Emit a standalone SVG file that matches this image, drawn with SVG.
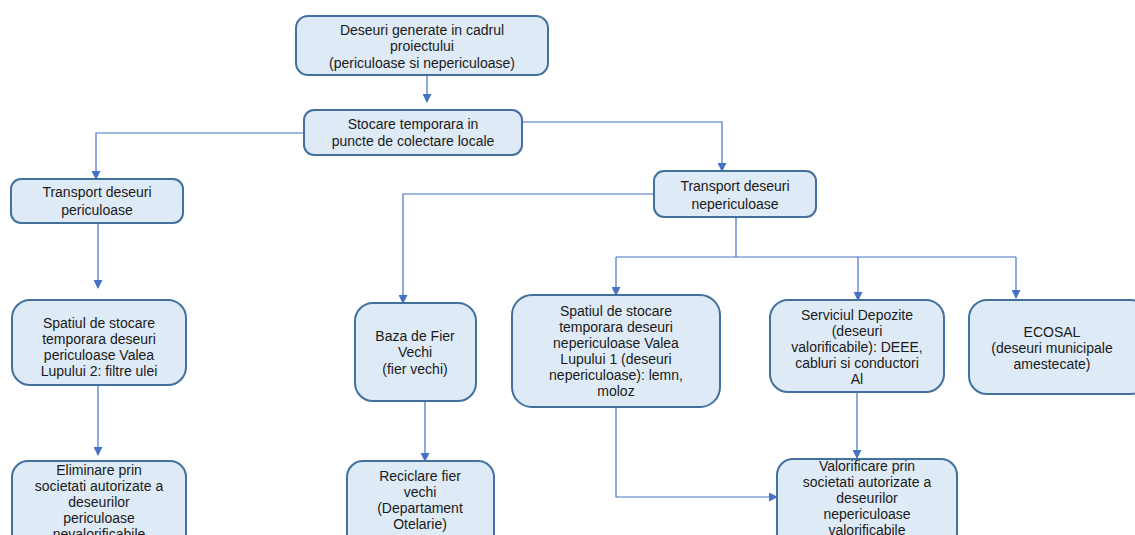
<svg xmlns="http://www.w3.org/2000/svg" width="1135" height="535" viewBox="0 0 1135 535">
<defs>
<marker id="ah" markerWidth="9" markerHeight="9" refX="8" refY="4.5" orient="auto" markerUnits="userSpaceOnUse">
<path d="M0,0 L9,4.5 L0,9 z" fill="#4472C4"/>
</marker>
<style>
.n{fill:#DEEAF6;stroke:#41719C;stroke-width:2}
.t{font-family:"Liberation Sans",Arial,sans-serif;font-size:14px;fill:#1a1a1a;text-anchor:middle}
.c{fill:none;stroke:#4472C4;stroke-width:1.2}
</style>
</defs>
<rect width="1135" height="535" fill="#fff"/>
<g id="connectors">
<path class="c" d="M427,75 V102" marker-end="url(#ah)"/>
<path class="c" d="M304,133 H96 V179" marker-end="url(#ah)"/>
<path class="c" d="M522,122 H722 V171" marker-end="url(#ah)"/>
<path class="c" d="M98,223 V288" marker-end="url(#ah)"/>
<path class="c" d="M98,385 V455" marker-end="url(#ah)"/>
<path class="c" d="M654,194 H403 V303" marker-end="url(#ah)"/>
<path class="c" d="M736,217 V257"/>
<path class="c" d="M616,257 H1016"/>
<path class="c" d="M616,257 V295" marker-end="url(#ah)"/>
<path class="c" d="M858,257 V300" marker-end="url(#ah)"/>
<path class="c" d="M1016,257 V298" marker-end="url(#ah)"/>
<path class="c" d="M425,401 V461" marker-end="url(#ah)"/>
<path class="c" d="M616,407 V497 H777" marker-end="url(#ah)"/>
<path class="c" d="M857,392 V458" marker-end="url(#ah)"/>
</g>
<g id="n1"><rect class="n" x="296" y="16" width="252" height="59" rx="12"/>
<text class="t" x="422" y="35">Deseuri generate in cadrul</text>
<text class="t" x="422" y="51">proiectului</text>
<text class="t" x="422" y="68">(periculoase si nepericuloase)</text></g>
<g id="n2"><rect class="n" x="304" y="110" width="218" height="45" rx="10"/>
<text class="t" x="413" y="129">Stocare temporara in</text>
<text class="t" x="413" y="146">puncte de colectare locale</text></g>
<g id="n3"><rect class="n" x="11" y="179" width="172" height="44" rx="10"/>
<text class="t" x="97" y="197">Transport deseuri</text>
<text class="t" x="97" y="215">periculoase</text></g>
<g id="n4"><rect class="n" x="654" y="171" width="162" height="46" rx="10"/>
<text class="t" x="735" y="191">Transport deseuri</text>
<text class="t" x="735" y="209">nepericuloase</text></g>
<g id="n5"><rect class="n" x="12" y="300" width="174" height="85" rx="18"/>
<text class="t" x="99" y="328">Spatiul de stocare</text>
<text class="t" x="99" y="344">temporara deseuri</text>
<text class="t" x="99" y="360">periculoase Valea</text>
<text class="t" x="99" y="376">Lupului 2: filtre ulei</text></g>
<g id="n6"><rect class="n" x="355" y="303" width="121" height="98" rx="18"/>
<text class="t" x="415" y="341">Baza de Fier</text>
<text class="t" x="415" y="357">Vechi</text>
<text class="t" x="415" y="374">(fier vechi)</text></g>
<g id="n7"><rect class="n" x="512" y="295" width="208" height="112" rx="20"/>
<text class="t" x="616" y="316">Spatiul de stocare</text>
<text class="t" x="616" y="332">temporara deseuri</text>
<text class="t" x="616" y="348">nepericuloase Valea</text>
<text class="t" x="616" y="364">Lupului 1 (deseuri</text>
<text class="t" x="616" y="380">nepericuloase): lemn,</text>
<text class="t" x="616" y="396">moloz</text></g>
<g id="n8"><rect class="n" x="770" y="300" width="174" height="92" rx="18"/>
<text class="t" x="857" y="320">Serviciul Depozite</text>
<text class="t" x="857" y="336">(deseuri</text>
<text class="t" x="857" y="352">valorificabile): DEEE,</text>
<text class="t" x="857" y="368">cabluri si conductori</text>
<text class="t" x="857" y="384">Al</text></g>
<g id="n9"><rect class="n" x="969" y="300" width="180" height="94" rx="18"/>
<text class="t" x="1052" y="337">ECOSAL</text>
<text class="t" x="1052" y="353">(deseuri  municipale</text>
<text class="t" x="1052" y="369">amestecate)</text></g>
<g id="n10"><rect class="n" x="12" y="461" width="174" height="90" rx="16"/>
<text class="t" x="99" y="475">Eliminare prin</text>
<text class="t" x="99" y="491">societati autorizate a</text>
<text class="t" x="99" y="507">deseurilor</text>
<text class="t" x="99" y="523">periculoase</text>
<text class="t" x="99" y="539">nevalorificabile</text></g>
<g id="n11"><rect class="n" x="347" y="461" width="147" height="90" rx="16"/>
<text class="t" x="420" y="481">Reciclare fier</text>
<text class="t" x="420" y="497">vechi</text>
<text class="t" x="420" y="513">(Departament</text>
<text class="t" x="420" y="529">Otelarie)</text></g>
<g id="n12"><rect class="n" x="777" y="459" width="180" height="90" rx="16"/>
<text class="t" x="867" y="471">Valorificare prin</text>
<text class="t" x="867" y="487">societati autorizate a</text>
<text class="t" x="867" y="503">deseurilor</text>
<text class="t" x="867" y="519">nepericuloase</text>
<text class="t" x="867" y="535">valorificabile</text></g>
</svg>
